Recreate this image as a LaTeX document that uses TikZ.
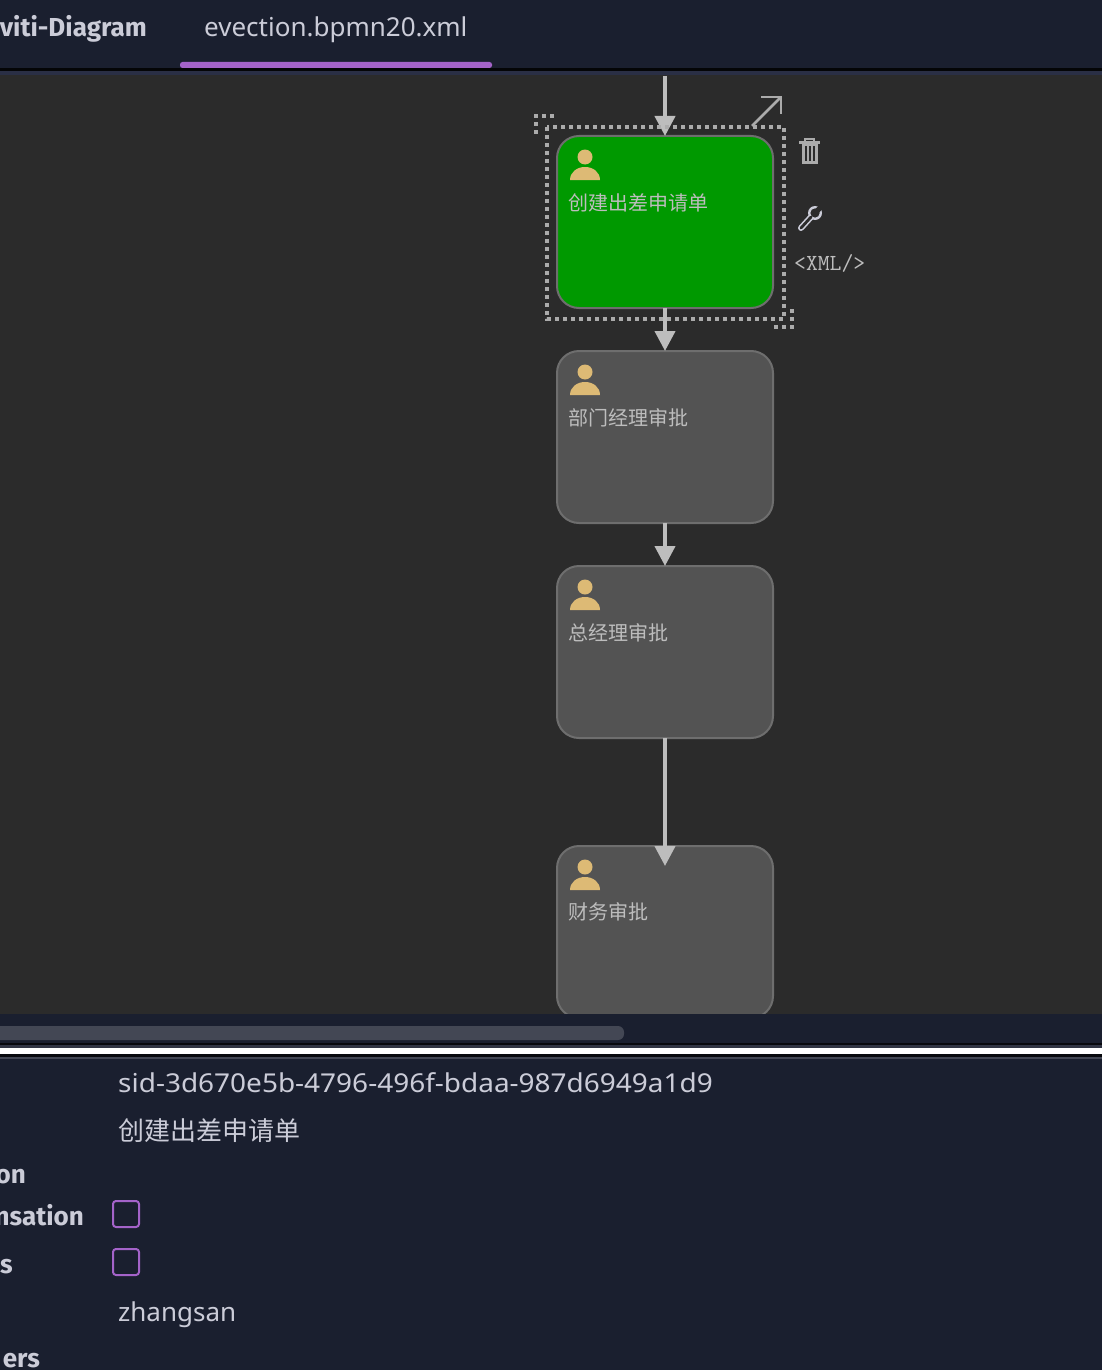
\documentclass[tikz,border=0pt]{standalone}
\usepackage{fontspec}
\setmainfont{Noto Sans}
\newfontfamily\cjkfont{Noto Sans CJK SC}
\newfontfamily\cutfont{Fira Sans}
\newfontfamily\sidfont[FakeStretch=1.076]{Noto Sans}
\definecolor{navybg}{HTML}{1A1F2F}
\definecolor{navyline}{HTML}{2A2F45}
\definecolor{canvasbg}{HTML}{2B2B2B}
\definecolor{taskgrey}{HTML}{535353}
\definecolor{taskedge}{HTML}{6E6E6E}
\definecolor{taskgreen}{HTML}{009900}
\definecolor{flowgrey}{HTML}{BDBDBD}
\definecolor{icongrey}{HTML}{ABABAB}
\definecolor{lilac}{HTML}{A463C9}
\definecolor{uitext}{HTML}{CBCCD8}
\definecolor{personskin}{HTML}{DDBA75}
\usetikzlibrary{arrows.meta}
\tikzset{
    taskbox/.style={draw=taskedge,line width=2pt,fill=taskgrey,rounded corners=22pt,
        minimum width=216pt,minimum height=172pt,inner sep=0pt,outer sep=0pt},
    tasklabel/.style={anchor=west,inner sep=0pt,text=flowgrey,font=\fontsize{20}{24}\selectfont\cjkfont},
    flow/.style={draw=flowgrey,line width=4pt,-{Triangle[width=20pt,length=20pt]}},
    selectline/.style={draw=icongrey,line width=3.8pt,dash pattern=on 3.6pt off 4.4pt},
    iconline/.style={draw=icongrey,line width=2.8pt},
    tooltext/.style={anchor=base west,inner sep=0pt,text=uitext,font=\fontsize{26}{30}\selectfont},
    cuttext/.style={anchor=base east,inner sep=0pt,text=uitext,font=\fontsize{26}{30}\selectfont\cutfont\bfseries},
    checkbox/.style={draw=lilac,line width=2pt,rounded corners=3pt,minimum width=26pt,minimum height=26pt,inner sep=0pt},
}
\begin{document}
\begin{tikzpicture}[x=1pt,y=-1pt]
        \useasboundingbox (0,0) rectangle (1102,1370);
        \clip (0,0) rectangle (1102,1370);
        \fill[navybg] (0,0) rectangle (1102,1370);
        \fill[black!85!navybg] (0,68) rectangle (1102,71);
        \fill[navyline] (0,71) rectangle (1102,75);
        \fill[canvasbg] (0,75) rectangle (1102,1014);
        \fill[lilac,rounded corners=2.5pt] (180,62) rectangle (492,68);
        \node[cuttext] (tabdiagram) at (147,37) {viti-Diagram};
        \node[tooltext] (tabfile) at (204,37) {evection.bpmn20.xml};
        \node[taskbox,fill=taskgreen] (taska) at (665,222) {};
        \node[taskbox] (taskb) at (665,437) {};
        \node[taskbox] (taskc) at (665,652) {};
        \node[taskbox] (taskd) at (665,932) {};
        \node[tasklabel] (labela) at (568,203) {创建出差申请单};
        \node[tasklabel] (labelb) at (568,418) {部门经理审批};
        \node[tasklabel] (labelc) at (568,633) {总经理审批};
        \node[tasklabel] (labeld) at (568,912) {财务审批};
        \foreach \task in {taska,taskb,taskc,taskd} {
            \begin{scope}[shift={(\task.north west)}]
                \fill[personskin] (28,21) circle (7.5);
                \fill[personskin] (13,44) .. controls (13,36) and (20,31) .. (28,31) .. controls (36,31) and (43,36) .. (43,44) -- cycle;
            \end{scope}
        }
        \coordinate (entry) at (665,76);
        \draw[flow] (entry) -- (taska.north);
        \draw[flow] (taska.south) -- (taskb.north);
        \draw[flow] (taskb.south) -- (taskc.north);
        \draw[flow,shorten >=-20pt] (taskc.south) -- (taskd.north);
        \draw[selectline] (547,127) rectangle (784,319);
        \draw[selectline] (536,134) -- (536,116) -- (556,116);
        \draw[selectline] (792,309) -- (792,327) -- (772,327);
        \draw[iconline] (752,126) -- (781,97);
        \draw[iconline] (761,97) -- (781,97) -- (781,114);
        \draw[iconline] (799,142.5) -- (820,142.5);
        \draw[iconline,line width=2pt] (805,142) -- (805,139) -- (814,139) -- (814,142);
        \fill[icongrey] (801.5,144) rectangle (817.5,164);
        \fill[canvasbg] (804.5,146) rectangle (806.5,161);
        \fill[canvasbg] (808.5,146) rectangle (810.5,161);
        \fill[canvasbg] (812.5,146) rectangle (814.5,161);
        \draw[uitext,line width=6pt,line cap=round] (801,228) -- (811,217);
        \fill[uitext] (815,213) circle (7);
        \draw[canvasbg,line width=2.8pt,line cap=round] (801,228) -- (811,217);
        \fill[canvasbg] (815,213) circle (4.6);
        \draw[canvasbg,line width=5pt] (815,213) -- (823,205);
        \node[anchor=base west,inner sep=0pt,text=flowgrey,font=\fontsize{23}{26}\selectfont\ttfamily] (xmllabel) at (794,270) {<XML/>};
        \fill[navybg] (0,1014) rectangle (1102,1370);
        \fill[white!18!navybg,rounded corners=6pt] (-20,1026) rectangle (624,1040);
        \fill[black!70!navybg] (0,1043) rectangle (1102,1045);
        \fill[white!10!navybg] (0,1045) rectangle (1102,1048);
        \fill[white] (0,1048) rectangle (1102,1054);
        \fill[black!70!navybg] (0,1054) rectangle (1102,1057);
        \fill[white!18!navybg] (0,1057) rectangle (1102,1059);
        \node[tooltext,font=\fontsize{26}{30}\selectfont\sidfont] (sidtext) at (118,1092) {sid-3d670e5b-4796-496f-bdaa-987d6949a1d9};
        \node[tooltext,anchor=west,font=\fontsize{26}{30}\selectfont\cjkfont] (nametext) at (118,1131) {创建出差申请单};
        \node[cuttext] (rowa) at (26,1183) {on};
        \node[cuttext] (rowb) at (84,1225) {nsation};
        \node[cuttext] (rowc) at (13,1273) {s};
        \node[tooltext] (usertext) at (118,1321) {zhangsan};
        \node[cuttext] (rowd) at (40,1367) {ers};
        \node[checkbox] (checka) at (126,1214) {};
        \node[checkbox] (checkb) at (126,1262) {};
    \end{tikzpicture}
\end{document}
